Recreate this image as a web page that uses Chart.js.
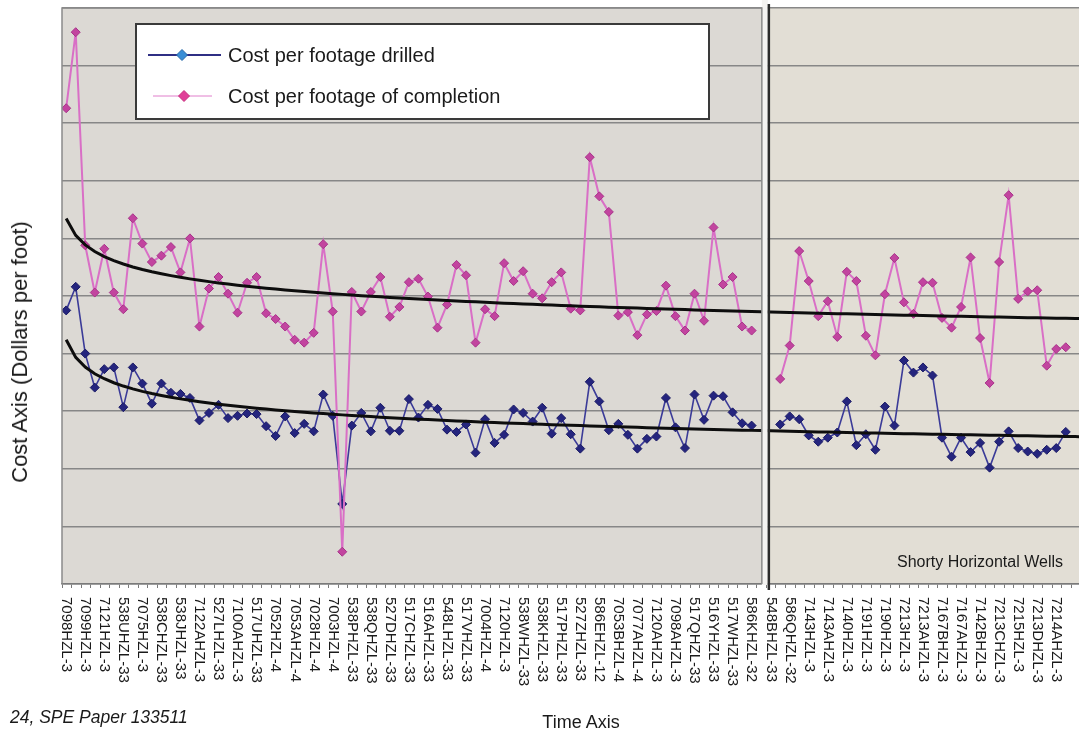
<!DOCTYPE html>
<html>
<head>
<meta charset="utf-8">
<script src="https://cdn.jsdelivr.net/npm/chart.js@4.4.1/dist/chart.umd.min.js"></script>
<style>
  html, body { margin: 0; padding: 0; background: #ffffff; }
  #wrap { position: relative; width: 1079px; height: 736px; overflow: hidden;
          font-family: "Liberation Sans", Arial, Helvetica, sans-serif; color: #1a1a1a; }
  #chart { position: absolute; left: 0; top: 0; }
  .txt { position: absolute; white-space: nowrap; line-height: 1; }
  #ytitle { left: 20px; top: 352px; font-size: 22px; transform: translate(-50%, -50%) rotate(-90deg); }
  #xtitle { left: 581px; top: 722px; font-size: 18px; transform: translate(-50%, -50%); }
  #source { left: 10px; top: 709px; font-size: 17.5px; font-style: italic; }
  #shorty { left: 897px; top: 554px; font-size: 16px; }
</style>
</head>
<body>
<div id="wrap">
  <canvas id="chart" width="1079" height="736"></canvas>
  <div class="txt" id="ytitle">Cost Axis (Dollars per foot)</div>
  <div class="txt" id="xtitle">Time Axis</div>
  <div class="txt" id="source">24, SPE Paper 133511</div>
  <div class="txt" id="shorty">Shorty Horizontal Wells</div>
</div>
<script>
// Well names shown on the time axis (every second well is labelled)
const mainWells = ['7098HZL-3','7099HZL-3','7121HZL-3','538UHZL-33','7075HZL-3','538CHZL-33',
  '538JHZL-33','7122AHZL-3','527LHZL-33','7100AHZL-3','517UHZL-33','7052HZL-4','7053AHZL-4',
  '7028HZL-4','7003HZL-4','538PHZL-33','538QHZL-33','527DHZL-33','517CHZL-33','516AHZL-33',
  '548LHZL-33','517VHZL-33','7004HZL-4','7120HZL-3','538WHZL-33','538KHZL-33','517PHZL-33',
  '527ZHZL-33','586EHZL-12','7053BHZL-4','7077AHZL-4','7120AHZL-3','7098AHZL-3','517QHZL-33',
  '516YHZL-33','517WHZL-33','586KHZL-32'];
const shortyWells = ['548BHZL-33','586QHZL-32','7143HZL-3','7143AHZL-3','7140HZL-3','7191HZL-3',
  '7190HZL-3','7213HZL-3','7213AHZL-3','7167BHZL-3','7167AHZL-3','7142BHZL-3','7213CHZL-3',
  '7215HZL-3','7213DHZL-3','7214AHZL-3'];

// Cost per footage drilled / of completion (dollars per foot), in well order
const drilledMain = [47.5,51.6,40.0,34.1,37.3,37.6,30.7,37.6,34.8,31.3,34.8,33.2,33.0,32.3,28.4,
  29.7,31.1,28.8,29.2,29.6,29.5,27.4,25.7,29.1,26.2,27.8,26.5,32.9,29.2,13.9,27.5,29.7,26.5,30.6,
  26.6,26.6,32.1,28.9,31.1,30.4,26.8,26.4,27.7,22.8,28.6,24.5,25.9,30.3,29.7,28.2,30.6,26.1,28.8,
  26.0,23.5,35.1,31.7,26.7,27.8,25.9,23.5,25.2,25.6,32.3,27.2,23.6,32.9,28.5,32.7,32.6,29.8,27.9,27.5];
const completionMain = [82.6,95.8,58.8,50.6,58.2,50.6,47.7,63.5,59.1,55.9,57.0,58.5,54.1,60.0,44.7,
  51.3,53.3,50.4,47.1,52.3,53.3,47.0,46.0,44.7,42.4,41.9,43.6,59.0,47.3,5.6,50.7,47.3,50.7,53.3,
  46.4,48.1,52.4,53.0,49.9,44.5,48.5,55.4,53.6,41.9,47.7,46.5,55.7,52.6,54.3,50.4,49.6,52.4,54.1,
  47.8,47.5,74.1,67.3,64.6,46.6,47.2,43.2,46.8,47.4,51.8,46.5,44.0,50.4,45.7,61.9,52.0,53.3,44.7,44.0];
const drilledShorty = [27.7,29.1,28.6,25.8,24.7,25.4,26.3,31.7,24.1,26.0,23.3,30.8,27.5,38.8,36.7,
  37.6,36.2,25.4,22.1,25.4,22.9,24.5,20.2,24.7,26.5,23.6,23.0,22.6,23.3,23.6,26.4];
const completionShorty = [35.6,41.4,57.8,52.6,46.5,49.1,42.9,54.2,52.6,43.1,39.7,50.3,56.6,48.9,
  46.9,52.4,52.3,46.2,44.5,48.1,56.7,42.7,34.9,55.9,67.5,49.5,50.8,51.0,37.9,40.8,41.1];

// Category positions on the time axis
const SHORTY_LABEL_START = 74;   // first shorty well name
const SHORTY_DATA_START = 75;    // first shorty data point
const PANEL_SPLIT = 73.6;        // divider between the two groups
const LAST_CATEGORY = 107;

function toPoints(main, shorty) {
  const pts = main.map((v, i) => ({ x: i, y: v }));
  pts.push({ x: main.length, y: null });
  shorty.forEach((v, j) => pts.push({ x: SHORTY_DATA_START + j, y: v }));
  return pts;
}

// Power-law least-squares trend: y = a * n^b, n = category number (1-based)
function powerTrend(points) {
  const valid = points.filter(p => p.y !== null && p.y > 0);
  const n = valid.length;
  let sx = 0, sy = 0, sxx = 0, sxy = 0;
  valid.forEach(p => {
    const lx = Math.log(p.x + 1), ly = Math.log(p.y);
    sx += lx; sy += ly; sxx += lx * lx; sxy += lx * ly;
  });
  const b = (n * sxy - sx * sy) / (n * sxx - sx * sx);
  const a = Math.exp((sy - b * sx) / n);
  const out = [];
  for (let c = 0; c <= LAST_CATEGORY; c++) out.push({ x: c, y: a * Math.pow(c + 1, b) });
  return out;
}

const drilledPts = toPoints(drilledMain, drilledShorty);
const completionPts = toPoints(completionMain, completionShorty);

const tickLabels = [];
mainWells.forEach((w, k) => tickLabels.push({ x: 2 * k, text: w }));
shortyWells.forEach((w, k) => tickLabels.push({ x: SHORTY_LABEL_START + 2 * k, text: w }));

function diamond(ctx, x, y, r, fill, stroke) {
  ctx.beginPath();
  ctx.moveTo(x, y - r); ctx.lineTo(x + r, y); ctx.lineTo(x, y + r); ctx.lineTo(x - r, y); ctx.closePath();
  ctx.fillStyle = fill; ctx.fill();
  if (stroke) { ctx.strokeStyle = stroke; ctx.lineWidth = 1; ctx.stroke(); }
}

const panels = {
  id: 'panels',
  beforeDraw(chart) {
    const { ctx, chartArea: ca, scales: { x } } = chart;
    const split = x.getPixelForValue(PANEL_SPLIT);
    ctx.save();
    ctx.fillStyle = '#dcd9d4';
    ctx.fillRect(ca.left, ca.top, split - 5 - ca.left, ca.bottom - ca.top);
    ctx.fillStyle = '#e2ded5';
    ctx.fillRect(split + 3, ca.top, ca.right - split - 3, ca.bottom - ca.top);
    ctx.restore();
  },
  afterDatasetsDraw(chart) {
    const { ctx, chartArea: ca, scales: { x } } = chart;
    const split = x.getPixelForValue(PANEL_SPLIT);
    ctx.save();
    // gap between the two groups
    ctx.fillStyle = '#f4f3f1';
    ctx.fillRect(split - 5, 0, 6, ca.bottom + 1);
    // frame of the main group
    ctx.strokeStyle = '#8a8a8a'; ctx.lineWidth = 1.5;
    ctx.beginPath();
    ctx.moveTo(ca.left, ca.bottom); ctx.lineTo(ca.left, ca.top);
    ctx.lineTo(split - 5, ca.top); ctx.lineTo(split - 5, ca.bottom);
    ctx.stroke();
    // divider
    ctx.strokeStyle = '#2b2b2b'; ctx.lineWidth = 2.5;
    ctx.beginPath(); ctx.moveTo(split + 2, 4); ctx.lineTo(split + 2, ca.bottom + 6); ctx.stroke();
    ctx.restore();
  },
  afterDraw(chart) {
    const { ctx, chartArea: ca, scales: { x } } = chart;
    ctx.save();
    // well names, reading downwards
    ctx.fillStyle = '#1a1a1a';
    ctx.font = '15px "Liberation Sans", Arial, sans-serif';
    ctx.textAlign = 'left'; ctx.textBaseline = 'middle';
    tickLabels.forEach(t => {
      ctx.save();
      ctx.translate(x.getPixelForValue(t.x), ca.bottom + 13);
      ctx.rotate(Math.PI / 2);
      ctx.fillText(t.text, 0, 0);
      ctx.restore();
    });
    // legend
    const lx = 136, ly = 24, lw = 573, lh = 95;
    ctx.fillStyle = '#ffffff'; ctx.fillRect(lx, ly, lw, lh);
    ctx.strokeStyle = '#3a3a3a'; ctx.lineWidth = 2; ctx.strokeRect(lx, ly, lw, lh);
    ctx.lineWidth = 2;
    ctx.strokeStyle = '#2f2f84';
    ctx.beginPath(); ctx.moveTo(148, 55); ctx.lineTo(221, 55); ctx.stroke();
    diamond(ctx, 182, 55, 5.5, '#3a8ed6', '#2c6aa8');
    ctx.strokeStyle = '#e07fcb';
    ctx.beginPath(); ctx.moveTo(153, 96); ctx.lineTo(212, 96); ctx.stroke();
    diamond(ctx, 184, 96, 5.5, '#e03f98', '#c8307f');
    ctx.fillStyle = '#1a1a1a';
    ctx.font = '20px "Liberation Sans", Arial, sans-serif';
    ctx.fillText('Cost per footage drilled', 228, 56);
    ctx.fillText('Cost per footage of completion', 228, 97);
    ctx.restore();
  }
};

new Chart(document.getElementById('chart'), {
  type: 'line',
  data: {
    datasets: [
      { label: 'Completion trend', data: powerTrend(completionPts), borderColor: '#0d0d0d', borderWidth: 3,
        pointRadius: 0, tension: 0 },
      { label: 'Drilled trend', data: powerTrend(drilledPts), borderColor: '#0d0d0d', borderWidth: 3,
        pointRadius: 0, tension: 0 },
      { label: 'Cost per footage of completion', data: completionPts, borderColor: '#d96fc6', borderWidth: 2,
        pointStyle: 'rectRot', pointRadius: 4.5, pointBackgroundColor: '#c2449f', pointBorderColor: '#a8338a',
        pointBorderWidth: 1, spanGaps: false },
      { label: 'Cost per footage drilled', data: drilledPts, borderColor: '#3b3b98', borderWidth: 1.6,
        pointStyle: 'rectRot', pointRadius: 4.5, pointBackgroundColor: '#25257e', pointBorderColor: '#1b1b66',
        pointBorderWidth: 1, spanGaps: false }
    ]
  },
  options: {
    responsive: false,
    animation: false,
    layout: { autoPadding: false, padding: { left: 62, top: 8, right: 0, bottom: 148 } },
    plugins: { legend: { display: false }, tooltip: { enabled: false } },
    scales: {
      x: {
        type: 'linear', min: -0.44, max: 106.39, bounds: 'data',
        ticks: { display: false, stepSize: 1, includeBounds: false },
        grid: { drawOnChartArea: false, drawTicks: true, tickLength: 4, color: '#7a7a7a', lineWidth: 1 },
        border: { display: true, color: '#7a7a7a', width: 1.5 }
      },
      y: {
        min: 0, max: 100,
        ticks: { display: false, stepSize: 10 },
        grid: { color: '#878787', lineWidth: 1.6, drawTicks: false },
        border: { display: false }
      }
    }
  },
  plugins: [panels]
});
</script>
</body>
</html>
